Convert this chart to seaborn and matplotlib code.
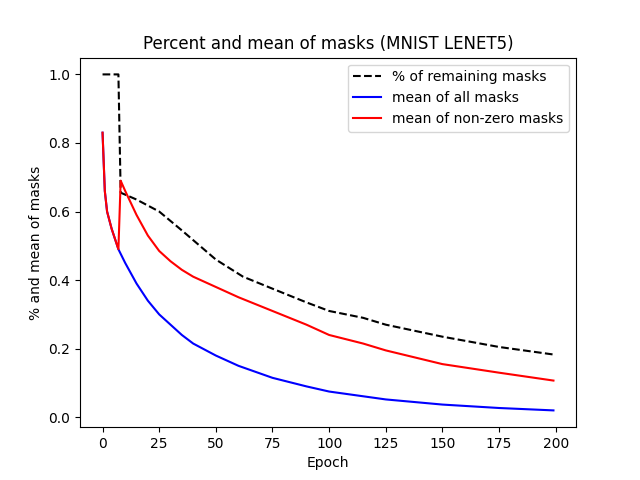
import matplotlib
matplotlib.use("Agg")
import matplotlib.pyplot as plt
import seaborn as sns

# epochs and values
ep_pct = [0, 7, 8, 15, 25, 35, 50, 62, 75, 90, 100, 115, 125, 150, 175, 199]
pct = [1.0, 1.0, 0.655, 0.635, 0.60, 0.545, 0.46, 0.41, 0.375, 0.335, 0.31, 0.29, 0.27, 0.235, 0.205, 0.183]

ep_all = [0, 1, 2, 4, 7, 10, 15, 20, 25, 30, 35, 40, 50, 60, 75, 90, 100, 125, 150, 175, 199]
mean_all = [0.83, 0.66, 0.60, 0.55, 0.49, 0.45, 0.39, 0.34, 0.30, 0.27, 0.24, 0.215, 0.18, 0.15, 0.115, 0.09, 0.075, 0.052, 0.037, 0.027, 0.02]

ep_nz = [0, 1, 2, 4, 7, 8, 10, 15, 20, 25, 30, 35, 40, 50, 60, 75, 90, 100, 115, 125, 150, 175, 199]
mean_nz = [0.83, 0.66, 0.60, 0.55, 0.49, 0.69, 0.66, 0.59, 0.53, 0.485, 0.455, 0.43, 0.41, 0.38, 0.35, 0.31, 0.27, 0.24, 0.215, 0.195, 0.155, 0.13, 0.107]

fig, ax = plt.subplots(figsize=(6.4, 4.8), dpi=100)
sns.lineplot(x=ep_pct, y=pct, ax=ax, color="black", linestyle="--", label="% of remaining masks")
sns.lineplot(x=ep_all, y=mean_all, ax=ax, color="blue", label="mean of all masks")
sns.lineplot(x=ep_nz, y=mean_nz, ax=ax, color="red", label="mean of non-zero masks")
ax.set_title("Percent and mean of masks (MNIST LENET5)")
ax.set_xlabel("Epoch")
ax.set_ylabel("% and mean of masks")
ax.set_xticks([0, 25, 50, 75, 100, 125, 150, 175, 200])
ax.legend(loc="upper right")
plt.savefig("out.png")
